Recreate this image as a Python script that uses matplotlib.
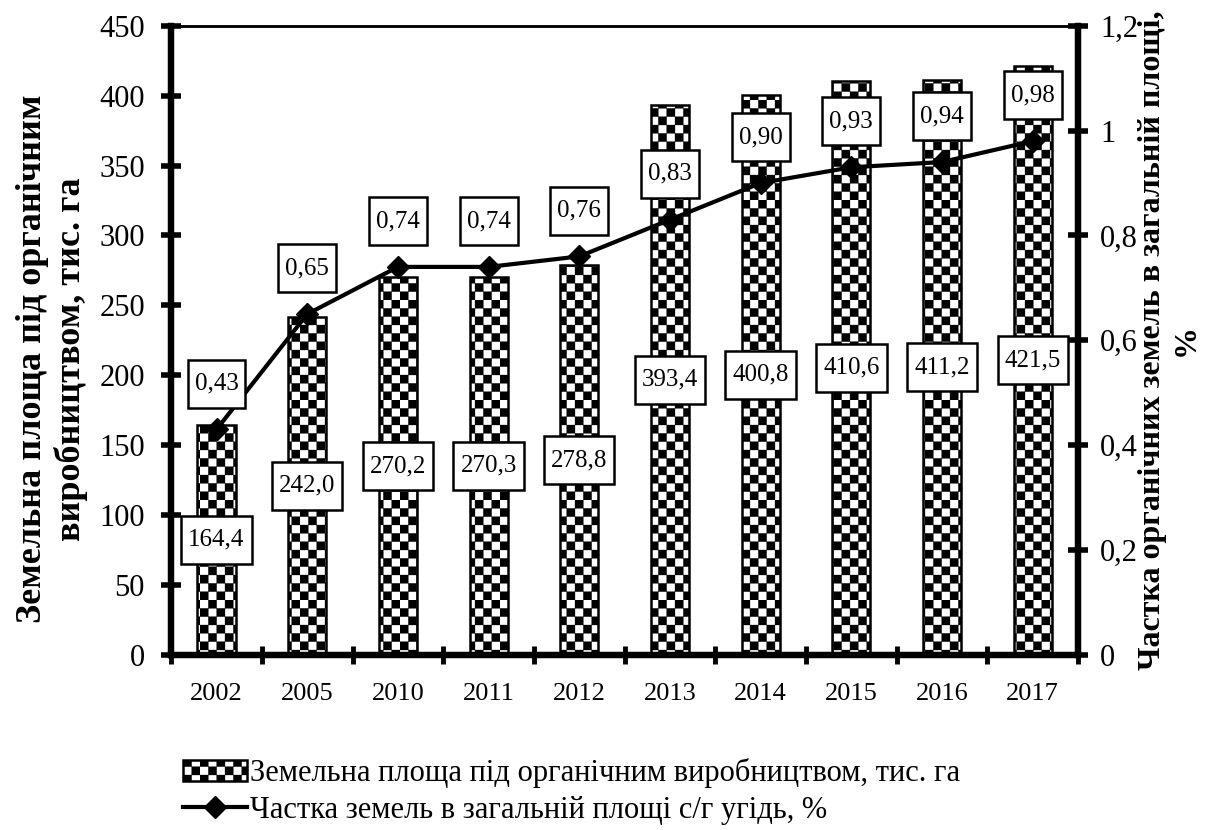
import warnings
import numpy as np
import matplotlib
matplotlib.use('Agg')
import matplotlib.pyplot as plt
from matplotlib import hatch as mhatch
from matplotlib.path import Path
from matplotlib.ticker import FuncFormatter

warnings.filterwarnings('ignore')

years = ['2002', '2005', '2010', '2011', '2012', '2013', '2014', '2015', '2016', '2017']
area = [164.4, 242.0, 270.2, 270.3, 278.8, 393.4, 400.8, 410.6, 411.2, 421.5]
share = [0.43, 0.65, 0.74, 0.74, 0.76, 0.83, 0.90, 0.93, 0.94, 0.98]

area_name = 'Земельна площа під органічним виробництвом, тис. га'
share_name = 'Частка земель в загальній площі с/г угідь, %'
left_title = 'Земельна площа під органічним\nвиробництвом, тис. га'
right_title = 'Частка органічних земель в загальній площі,\n%'


# checkerboard hatch ('c' in the hatch string), 12 cells per inch tile
class CheckerHatch(mhatch.HatchPatternBase):
    def __init__(self, hatch, density):
        self.n = 12 if 'c' in hatch else 0
        self.num_vertices = (self.n * self.n // 2) * 5

    def set_vertices_and_codes(self, vertices, codes):
        n = self.n
        s = 1.0 / n
        k = 0
        for i in range(n):
            for j in range(n):
                if (i + j) % 2 == 0:
                    x0, y0 = i * s, j * s
                    vertices[k:k + 5] = [(x0, y0), (x0 + s, y0), (x0 + s, y0 + s),
                                         (x0, y0 + s), (x0, y0)]
                    codes[k:k + 5] = [Path.MOVETO, Path.LINETO, Path.LINETO,
                                      Path.LINETO, Path.CLOSEPOLY]
                    k += 5


mhatch._hatch_types.append(CheckerHatch)


# label box: wider padding top/bottom than left/right
def label_box(x0, y0, w, h, mutation_size):
    px, py = 0.28 * mutation_size, 0.52 * mutation_size
    return Path([(x0 - px, y0 - py), (x0 + w + px, y0 - py), (x0 + w + px, y0 + h + py),
                 (x0 - px, y0 + h + py), (x0 - px, y0 - py)],
                [Path.MOVETO, Path.LINETO, Path.LINETO, Path.LINETO, Path.CLOSEPOLY])


plt.rcParams['font.family'] = ['Liberation Serif', 'DejaVu Serif']
plt.rcParams['hatch.linewidth'] = 0.2


def comma(v, pos=None):
    return f'{v:g}'.replace('.', ',')


box = dict(boxstyle=label_box, fc='white', ec='black', lw=1.8)

fig = plt.figure(figsize=(12.14, 8.30), dpi=100)
ax = fig.add_axes([0.141, 0.211, 0.747, 0.758])
ax2 = ax.twinx()

x = np.arange(len(years))
bars = ax.bar(x, area, width=0.42, color='white', edgecolor='black',
              linewidth=1.8, hatch='c', label=area_name, zorder=2)
ax.bar_label(bars, labels=[f'{v:.1f}'.replace('.', ',') for v in area],
             label_type='center', fontsize=18, bbox=box)

line, = ax2.plot(x, share, color='black', lw=3, marker='D', markersize=11,
                 label=share_name, zorder=3)
for xi, v in zip(x, share):
    ax2.annotate(f'{v:.2f}'.replace('.', ','), (xi, v), xytext=(0, 33),
                 textcoords='offset points', ha='center', va='center', fontsize=18,
                 bbox=box)

ax.set_xlim(-0.5, len(years) - 0.5)
ax.set_ylim(0, 450)
ax.set_yticks(np.arange(0, 451, 50))
ax2.set_ylim(0, 1.2)
ax2.set_yticks(np.arange(0, 1.21, 0.2))
ax2.yaxis.set_major_formatter(FuncFormatter(comma))

ax.set_xticks(np.arange(len(years) + 1) - 0.5)
ax.set_xticklabels([])
ax.set_xticks(x, minor=True)
ax.set_xticklabels(years, minor=True, fontsize=19)
ax.tick_params(axis='x', which='minor', length=0, pad=20)
ax.tick_params(axis='x', which='major', direction='inout', length=13, width=3.5)
ax.tick_params(axis='y', direction='inout', length=14, width=4, labelsize=22, pad=12)
ax2.tick_params(axis='y', direction='inout', length=14, width=4, labelsize=22, pad=9)

for a in (ax, ax2):
    a.spines['left'].set_linewidth(4.5)
    a.spines['bottom'].set_linewidth(4.5)
    a.spines['right'].set_linewidth(4.5)
    a.spines['top'].set_linewidth(1.8)

ax.set_ylabel(left_title, fontsize=26, fontweight='bold', labelpad=8)
ax2.set_ylabel(right_title, fontsize=23, fontweight='bold', labelpad=0)
ax.yaxis.label.set_y(0.47)
ax2.yaxis.label.set_y(0.5)

fig.legend(handles=[bars, line], loc='upper left', bbox_to_anchor=(0.138, 0.105),
           frameon=False, fontsize=22, handlelength=2.1, handletextpad=0.1,
           labelspacing=0.25, borderpad=0)

fig.savefig('out.png', dpi=100)
